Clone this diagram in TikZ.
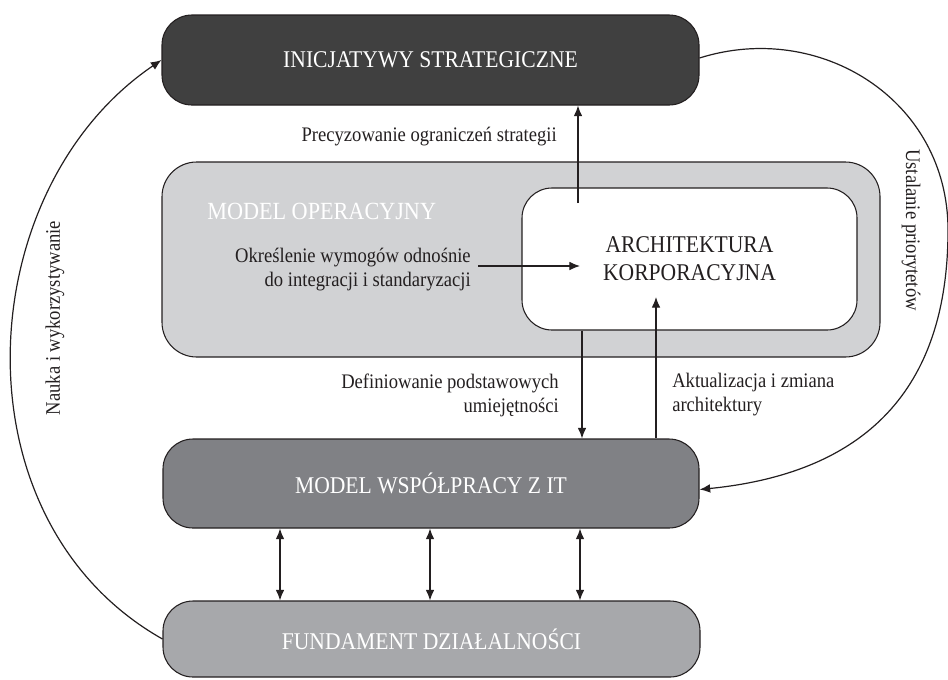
\documentclass[tikz,border=0pt]{standalone}
\usepackage{fontspec}
\setmainfont{Liberation Serif}[FakeStretch=0.9]
\usetikzlibrary{arrows.meta,calc}
\definecolor{inicol}{HTML}{404040}
\definecolor{opcol}{HTML}{D1D2D4}
\definecolor{wspcol}{HTML}{808185}
\definecolor{fundcol}{HTML}{A7A8AB}
\definecolor{inkcol}{HTML}{231F20}
\begin{document}
\begin{tikzpicture}[x=0.75pt,y=-0.75pt,
  box/.style={draw=inkcol,line width=0.8pt,inner sep=0pt,align=center,
    font=\fontsize{18}{21}\selectfont},
  capstext/.style={font=\fontsize{18.5}{21}\selectfont,inner sep=0pt},
  lbl/.style={font=\fontsize{15.5}{18}\selectfont,text=inkcol,inner sep=0pt},
  arr/.style={draw=inkcol,line width=0.9pt,-{Latex[length=8pt,width=6.5pt]}},
  darr/.style={draw=inkcol,line width=0.9pt,{Latex[length=8pt,width=6.5pt]}-{Latex[length=8pt,width=6.5pt]}}]
\useasboundingbox (0,0) rectangle (948,679);
% boxes
\node[box,fill=opcol,rounded corners=26pt,minimum width=538.5pt,minimum height=146.25pt] (opm) at (521,259.5) {};
\node[box,fill=white,rounded corners=22.5pt,minimum width=251.25pt,minimum height=106.5pt,text=inkcol] (arch) at (689.5,259)
  {\baselineskip=20pt ARCHITEKTURA\\KORPORACYJNA};
\node[box,fill=inicol,rounded corners=22.5pt,minimum width=402.75pt,minimum height=67.5pt,text=white] (ini) at (430.5,60) {INICJATYWY STRATEGICZNE};
\node[box,fill=wspcol,rounded corners=22.5pt,minimum width=402pt,minimum height=66.75pt,text=white] (wsp) at (431,483.5) {MODEL WSPÓŁPRACY Z IT};
\node[box,fill=fundcol,rounded corners=22.5pt,minimum width=402.75pt,minimum height=57pt,text=white] (fund) at (431.5,639) {FUNDAMENT DZIAŁALNOŚCI};
\node[capstext,text=white,anchor=west] (opmt) at (207,211) {MODEL OPERACYJNY};
% labels
\node[lbl,anchor=east] (l1) at (557,137) {Precyzowanie ograniczeń strategii};
\node[lbl,anchor=east,align=right] (l2) at (471,270) {Określenie wymogów odnośnie\\do integracji i standaryzacji};
\node[lbl,anchor=east,align=right] (l3) at (559,395) {Definiowanie podstawowych\\umiejętności};
\node[lbl,anchor=west,align=left] (l4) at (672,395) {Aktualizacja i zmiana\\architektury};
\node[lbl,rotate=90] (l5) at (55,318) {Nauka i wykorzystywanie};
\node[lbl,rotate=-90] (l6) at (911,230) {Ustalanie priorytetów};
% coordinates
\coordinate (archup) at (578,203);
\coordinate (hstart) at (478,266);
\coordinate (hend) at (580,266);
\coordinate (dx) at (582,0);
\coordinate (ux) at (656,0);
\coordinate (upend) at (656,297);
\coordinate (c1) at (280,0);
\coordinate (c2) at (430,0);
\coordinate (c3) at (580,0);
\coordinate (rc) at (948,230);
% connectors
\draw[arr] (archup) -- (archup |- ini.south);
\draw[arr] (hstart) -- (hend);
\draw[arr] (arch.south -| dx) -- (wsp.north -| dx);
\draw[arr] (wsp.north -| ux) -- (upend);
\draw[darr] (wsp.south -| c1) -- (fund.north -| c1);
\draw[darr] (wsp.south -| c2) -- (fund.north -| c2);
\draw[darr] (wsp.south -| c3) -- (fund.north -| c3);
\draw[arr] (fund.west) .. controls (-48,520) and (-30,190) .. (ini.west);
\draw[arr] ([yshift=1.5pt]ini.east) .. controls (820,20) and (948,100) .. (rc) .. controls (948,380) and (875,472) .. ([yshift=-4.5pt]wsp.east);
\end{tikzpicture}
\end{document}
